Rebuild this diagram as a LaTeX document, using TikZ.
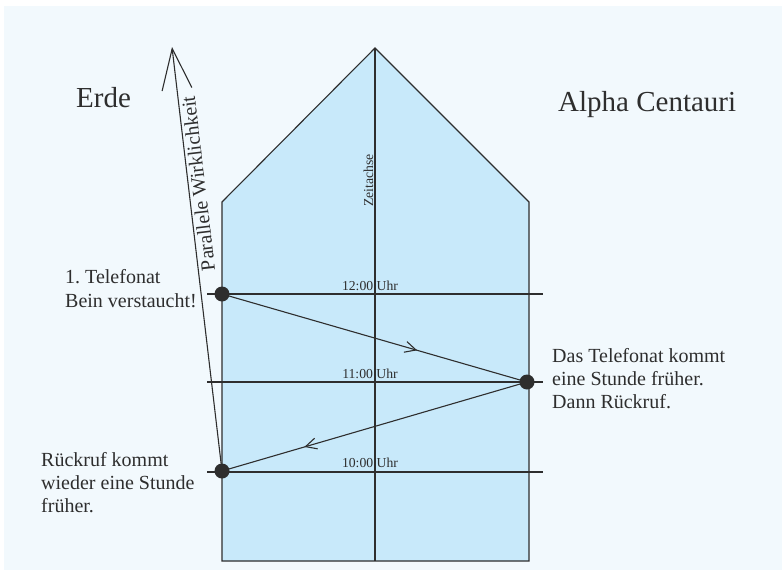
\documentclass[tikz,border=0pt]{standalone}
\usepackage{fontspec}
\setmainfont{Liberation Serif}
\usetikzlibrary{arrows.meta,decorations.markings}
\definecolor{bgc}{HTML}{F2F9FD}
\definecolor{housec}{HTML}{C8E9FA}
\definecolor{ink}{HTML}{2E2E2E}
\tikzset{
  ln/.style={draw=ink, line width=1.1pt},
  dot/.style={circle, fill=ink, draw=none, minimum size=15pt, inner sep=0pt},
  bigtxt/.style={anchor=base west, inner sep=0pt, text=ink, font=\fontsize{29}{34}\selectfont},
  blocktxt/.style={anchor=base west, inner sep=0pt, text=ink, align=left, font=\fontsize{20}{23}\selectfont},
  timetxt/.style={anchor=base, inner sep=0pt, text=ink, font=\fontsize{13.7}{16}\selectfont},
  midarrow/.style={postaction={decorate}, decoration={markings,
     mark=at position #1 with {\arrow[ink, line width=1.1pt]{Straight Barb[length=11pt,width=11pt]}}}}
}
\frenchspacing
\begin{document}
\begin{tikzpicture}[x=1pt,y=-1pt]
\useasboundingbox (0,0) rectangle (782,570);
\fill[bgc] (4,6) rectangle (782,570);
% house
\filldraw[fill=housec, ln] (222,561) -- (222,202) -- (375,48) -- (529,202) -- (529,561) -- cycle;
% time axis
\coordinate (apex) at (375,48);
\coordinate (zbot) at (375,561);
\draw[ln] (apex) -- (zbot);
\node[rotate=90, anchor=base west, inner sep=0pt, text=ink, font=\fontsize{13.7}{16}\selectfont] (zeit) at (373,207) {Zeitachse};
% hour lines
\coordinate (h12l) at (207,294); \coordinate (h12r) at (543,294);
\coordinate (h11l) at (207,382); \coordinate (h11r) at (543,382);
\coordinate (h10l) at (207,472); \coordinate (h10r) at (543,472);
\draw[ln] (h12l) -- (h12r);
\draw[ln] (h11l) -- (h11r);
\draw[ln] (h10l) -- (h10r);
\node[timetxt] (t12) at (370,290) {12:00 Uhr};
\node[timetxt] (t11) at (370,378) {11:00 Uhr};
\node[timetxt] (t10) at (370,467) {10:00 Uhr};
% dots
\coordinate (p1) at (222,294);
\coordinate (p2) at (527,382);
\coordinate (p3) at (222,471);
\coordinate (ptip) at (172,47);
% parallel reality arrow
\draw[ln, -{Straight Barb[length=41pt,width=30pt]}] (p3) -- (ptip);
\node[rotate=96.7, anchor=base, inner sep=0pt, text=ink, font=\fontsize{20}{24}\selectfont] (par) at (205,183) {Parallele Wirklichkeit};
% calls
\draw[ln, midarrow=0.64] (p1) -- (p2);
\draw[ln, midarrow=0.73] (p2) -- (p3);
\node[dot] (d1) at (p1) {};
\node[dot] (d2) at (p2) {};
\node[dot] (d3) at (p3) {};
% labels
\node[bigtxt] (erde) at (76,107) {Erde};
\node[bigtxt] (alpha) at (558,111) {Alpha Centauri};
\node[blocktxt, font=\fontsize{20}{24}\selectfont] (l1) at (65,307) {1.\ Telefonat\\Bein verstaucht!};
\node[blocktxt] (l2) at (41,512) {Rückruf kommt\\wieder eine Stunde\\früher.};
\node[blocktxt] (l3) at (552,408) {Das Telefonat kommt\\eine Stunde früher.\\Dann Rückruf.};
\end{tikzpicture}
\end{document}
